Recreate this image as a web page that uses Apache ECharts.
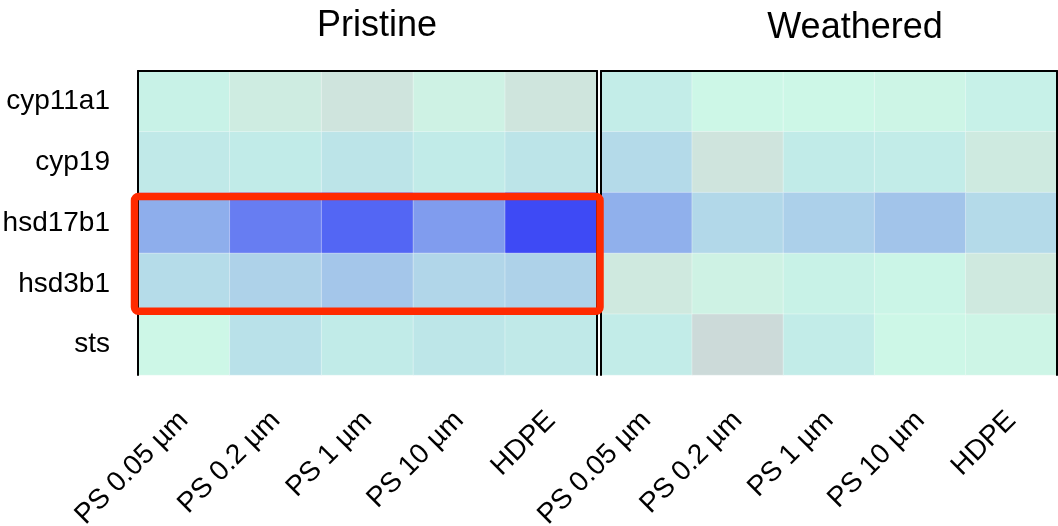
<!DOCTYPE html>
<html>
<head>
<meta charset="utf-8">
<script src="https://cdn.jsdelivr.net/npm/echarts@6/dist/echarts.min.js"></script>
<style>
html,body{margin:0;padding:0;background:#fff;}
#main{width:1058px;height:526px;}
</style>
</head>
<body>
<div id="main"></div>
<script>
const genes = ['cyp11a1', 'cyp19', 'hsd17b1', 'hsd3b1', 'sts'];
const treatments = ['PS 0.05 µm', 'PS 0.2 µm', 'PS 1 µm', 'PS 10 µm', 'HDPE'];
const panelTitles = ['Pristine', 'Weathered'];
// rows follow genes, columns follow treatments (relative expression score)
const pristine = [
  [2.4, 1.4, 0.9, 1.7, 1.0],
  [3.1, 3.0, 3.4, 3.0, 3.4],
  [6.0, 7.8, 8.8, 6.6, 10.0],
  [3.9, 4.4, 5.0, 4.2, 4.4],
  [2.0, 3.6, 3.0, 3.3, 3.1]
];
const weathered = [
  [2.8, 2.0, 2.0, 1.9, 2.5],
  [4.0, 0.95, 3.0, 2.9, 1.3],
  [5.9, 4.1, 4.5, 5.1, 4.0],
  [1.2, 1.7, 2.4, 2.2, 1.2],
  [2.9, 0.1, 2.9, 2.0, 1.9]
];
const highlightGenes = ['hsd17b1', 'hsd3b1'];

function toCells(mat) {
  const out = [];
  mat.forEach((row, gi) => row.forEach((v, ti) => out.push([ti, gi, v])));
  return out;
}

const FONT = 'Liberation Sans, Arial, sans-serif';
const grids = [
  {left: 138, top: 71, width: 459, height: 304, outerBoundsMode: 'none', containLabel: false},
  {left: 601, top: 71, width: 456, height: 304, outerBoundsMode: 'none', containLabel: false}
];

const xAxes = [], yAxes = [];
grids.forEach((g, i) => {
  xAxes.push({
    type: 'category', gridIndex: i, data: treatments, position: 'bottom', z: 5,
    axisLine: {show: false}, axisTick: {show: false},
    axisLabel: {rotate: 45, fontSize: 28, color: '#000', fontFamily: FONT, margin: 41, interval: 0}
  });
  xAxes.push({
    type: 'category', gridIndex: i, data: treatments, position: 'top', z: 5,
    axisLine: {show: true, lineStyle: {color: '#000', width: 2}}, axisTick: {show: false},
    axisLabel: {show: false}
  });
  yAxes.push({
    type: 'category', gridIndex: i, data: genes, inverse: true, position: 'left', z: 5,
    axisLine: {show: true, lineStyle: {color: '#000', width: 2}}, axisTick: {show: false},
    axisLabel: {show: i === 0, fontSize: 28, color: '#000', fontFamily: FONT, margin: 28}
  });
  yAxes.push({
    type: 'category', gridIndex: i, data: genes, inverse: true, position: 'right', z: 5,
    axisLine: {show: true, lineStyle: {color: '#000', width: 2}}, axisTick: {show: false},
    axisLabel: {show: false}
  });
});

const chart = echarts.init(document.getElementById('main'));
chart.setOption({
  animation: false,
  backgroundColor: '#fff',
  title: [
    {text: panelTitles[0], left: 372, top: 3, textAlign: 'center',
     textStyle: {fontSize: 36, fontWeight: 'normal', color: '#000', fontFamily: FONT}},
    {text: panelTitles[1], left: 850, top: 5, textAlign: 'center',
     textStyle: {fontSize: 36, fontWeight: 'normal', color: '#000', fontFamily: FONT}}
  ],
  grid: grids,
  xAxis: xAxes,
  yAxis: yAxes,
  visualMap: {
    show: false, min: 0, max: 10, seriesIndex: [0, 1],
    inRange: {color: ['#ccd9d8', '#cfe5dd', '#cdf7e7', '#c1ebe8', '#b4dae9', '#a4c6ea',
                      '#8eaeec', '#7690f0', '#6378f2', '#4f61f4', '#3e4af5']}
  },
  series: [
    {type: 'heatmap', xAxisIndex: 0, yAxisIndex: 0, data: toCells(pristine),
     itemStyle: {borderColor: 'rgba(255,255,255,0.35)', borderWidth: 1}},
    {type: 'heatmap', xAxisIndex: 2, yAxisIndex: 2, data: toCells(weathered),
     itemStyle: {borderColor: 'rgba(255,255,255,0.35)', borderWidth: 1}},
    {type: 'custom', xAxisIndex: 0, yAxisIndex: 0, clip: false, z: 10,
     data: [[0, genes.indexOf(highlightGenes[0]), treatments.length - 1, genes.indexOf(highlightGenes[1])]],
     renderItem: function (params, api) {
       const a = api.coord([api.value(0), api.value(1)]);
       const b = api.coord([api.value(2), api.value(3)]);
       const s = api.size([1, 1]);
       const x0 = a[0] - s[0] / 2 - 3.5, x1 = b[0] + s[0] / 2 + 3;
       const y0 = a[1] - s[1] / 2 + 4, y1 = b[1] + s[1] / 2 - 3;
       return {
         type: 'rect',
         shape: {x: x0, y: y0, width: x1 - x0, height: y1 - y0, r: 4},
         style: {fill: null, stroke: '#ff2a00', lineWidth: 7.5}
       };
     }}
  ]
});
</script>
</body>
</html>
